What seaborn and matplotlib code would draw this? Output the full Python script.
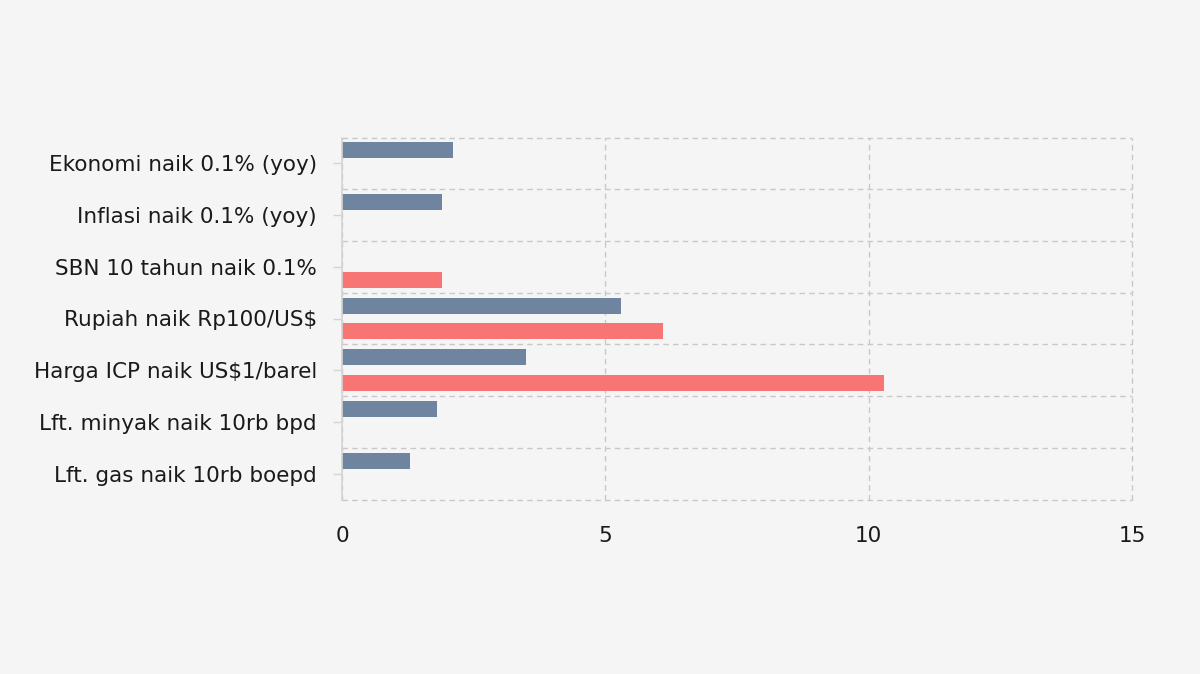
import numpy as np
import pandas as pd
import seaborn as sns
import matplotlib.pyplot as plt

# -----------------------------
# Data
# -----------------------------
categories = [
    "Ekonomi naik 0.1% (yoy)",
    "Inflasi naik 0.1% (yoy)",
    "SBN 10 tahun naik 0.1%",
    "Rupiah naik Rp100/US$",
    "Harga ICP naik US$1/barel",
    "Lft. minyak naik 10rb bpd",
    "Lft. gas naik 10rb boepd",
]
series_names = ["Seri A", "Seri B"]
series_a = [2.1, 1.9, np.nan, 5.3, 3.5, 1.8, 1.3]
series_b = [np.nan, np.nan, 1.9, 6.1, 10.3, np.nan, np.nan]
x_ticks = [0, 5, 10, 15]

colors = ["#6f849f", "#f77575"]
bg = "#f5f5f5"
grid_color = "#c8c8c8"

df = pd.DataFrame({
    "label": categories * 2,
    "value": series_a + series_b,
    "series": [series_names[0]] * len(categories) + [series_names[1]] * len(categories),
}).dropna()

# -----------------------------
# Plot
# -----------------------------
sns.set_theme(style="white")
plt.rcParams["font.family"] = ["DejaVu Sans"]

fig = plt.figure(figsize=(12, 6.74), dpi=100, facecolor=bg)
ax = fig.add_axes([342 / 1200, 1 - 499.5 / 674, 790 / 1200, 362 / 674])
ax.set_facecolor(bg)

sns.barplot(
    data=df, x="value", y="label", hue="series",
    order=categories, hue_order=series_names, palette=colors,
    orient="h", width=1.0, gap=0.38, saturation=1, legend=False,
    linewidth=0, ax=ax,
)

ax.set_xlim(0, 15)
ax.set_ylim(len(categories) - 0.5, -0.5)
ax.set_xticks(x_ticks)
ax.set_xticklabels([str(t) for t in x_ticks])
ax.set_yticks(np.arange(-0.5, len(categories), 1), minor=True)

dash = (0, (4, 3))
ax.grid(False)
ax.grid(axis="x", which="major", color=grid_color, linestyle=dash, linewidth=1)
ax.grid(axis="y", which="minor", color=grid_color, linestyle=dash, linewidth=1)
ax.set_axisbelow(True)
for t in ax.xaxis.get_major_ticks() + ax.yaxis.get_minor_ticks():
    t.gridline.set_clip_on(False)

for side in ["top", "right", "bottom"]:
    ax.spines[side].set_visible(False)
ax.spines["left"].set_color("#d4d4d4")
ax.spines["left"].set_linewidth(1.2)

ax.tick_params(axis="y", which="major", length=6.5, width=1, color="#d4d4d4",
               pad=11.5, labelsize=15.5, labelcolor="#1a1a1a", left=True)
ax.tick_params(axis="y", which="minor", length=0)
ax.tick_params(axis="x", length=0, pad=19, labelsize=15.5, labelcolor="#1a1a1a")

ax.set_xlabel("")
ax.set_ylabel("")

fig.savefig("out.png", dpi=100, facecolor=bg)
